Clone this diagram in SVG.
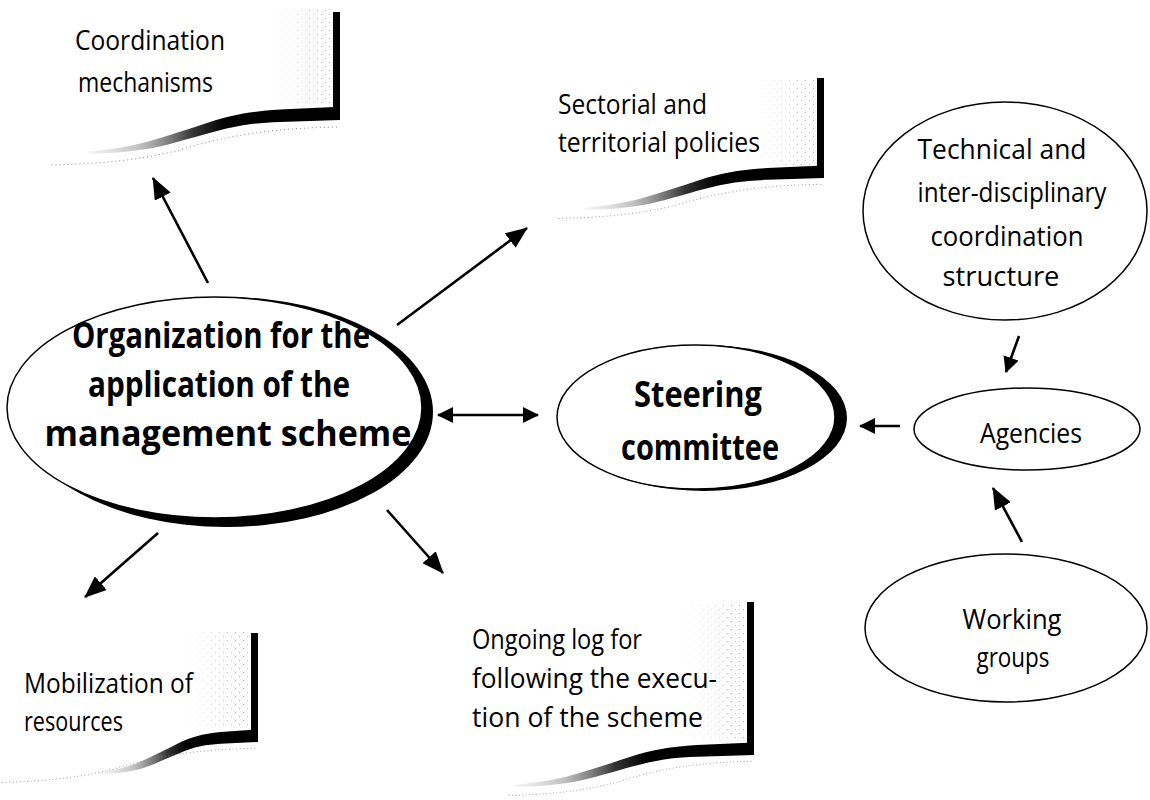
<svg xmlns="http://www.w3.org/2000/svg" width="1150" height="800" viewBox="0 0 1150 800">
<style>
  .t { font-family: "Open Sans", "Liberation Sans", sans-serif; font-size: 27px; fill: #000; }
  .b { font-family: "Open Sans", "Liberation Sans", sans-serif; font-size: 36px; font-weight: bold; fill: #000; }
  .c { text-anchor: middle; }
  .node { fill: #fff; stroke: #000; stroke-width: 1.5; }
  .shadow { fill: #000; }
  .conn { stroke: #000; stroke-width: 2.6; fill: none; }
  .bar { fill: #000; }
  .dots { fill: none; stroke: #888; stroke-width: 1; stroke-dasharray: 1 3; }
</style>
<defs>
  <marker id="ah" markerUnits="userSpaceOnUse" markerWidth="22" markerHeight="18" refX="21" refY="9" orient="auto-start-reverse" viewBox="0 0 22 18">
    <path d="M0,0 L22,9 L0,18 Z" fill="#000"/>
  </marker>
  <marker id="ahs" markerUnits="userSpaceOnUse" markerWidth="16" markerHeight="16" refX="15" refY="8" orient="auto-start-reverse" viewBox="0 0 16 16">
    <path d="M0,0 L16,8 L0,16 Z" fill="#000"/>
  </marker>
  <linearGradient id="bandGrad" x1="0" y1="0" x2="1" y2="0">
    <stop offset="0" stop-color="#bbb" stop-opacity="0.15"/>
    <stop offset="0.2" stop-color="#999" stop-opacity="0.6"/>
    <stop offset="0.42" stop-color="#333"/>
    <stop offset="0.55" stop-color="#000"/>
    <stop offset="1" stop-color="#000"/>
  </linearGradient>
  <pattern id="stipple" width="8" height="8" patternUnits="userSpaceOnUse">
    <rect x="1" y="2" width="1" height="1" fill="#888"/>
    <rect x="5" y="6" width="1" height="1" fill="#999"/>
  </pattern>
  <linearGradient id="fadeGrad" x1="0" y1="0" x2="1" y2="0">
    <stop offset="0" stop-color="#fff" stop-opacity="0"/>
    <stop offset="1" stop-color="#fff" stop-opacity="0.8"/>
  </linearGradient>
  <mask id="fadeMask" maskContentUnits="objectBoundingBox">
    <rect width="1" height="1" fill="url(#fadeGrad)"/>
  </mask>
  <path id="band" d="M 0 -14 L -60 -11 C -90 -9 -110 -5 -130 2 C -150 9 -170 16 -190 22 C -210 28 -230 31 -252 33 L -252 35 C -230 36 -210 33 -190 30 C -170 26 -150 19 -125 12 C -100 5 -85 3 -60 2 L 0 0 Z"/>
  <path id="dotline" d="M -3 7 C -60 8 -110 14 -160 30 C -200 40 -240 44 -290 45"/>
</defs>

<!-- connectors -->
<g id="connectors">
  <line class="conn" x1="208" y1="283" x2="153" y2="178" marker-end="url(#ah)"/>
  <line class="conn" x1="397" y1="325" x2="527" y2="228" marker-end="url(#ah)"/>
  <line class="conn" x1="158" y1="533" x2="85" y2="597" marker-end="url(#ah)"/>
  <line class="conn" x1="387" y1="510" x2="443" y2="573" marker-end="url(#ah)"/>
  <line class="conn" x1="438" y1="415" x2="538" y2="415" marker-start="url(#ahs)" marker-end="url(#ahs)"/>
  <line class="conn" x1="900" y1="426" x2="860" y2="426" marker-end="url(#ahs)"/>
  <line class="conn" x1="1019" y1="336" x2="1006" y2="372" marker-end="url(#ahs)"/>
  <line class="conn" x1="1022" y1="542" x2="993" y2="488" marker-end="url(#ah)"/>
</g>

<!-- page-curl labels -->
<g id="coordination-mechanisms">
  <g transform="translate(340,120)">
    <rect x="-75" y="-110" width="68" height="96" fill="url(#stipple)" mask="url(#fadeMask)"/>
    <use href="#band" fill="url(#bandGrad)" transform="scale(1,0.95)"/>
    <use href="#dotline" class="dots"/>
    <rect class="bar" x="-7" y="-108" width="7" height="108"/>
  </g>
  <text class="t" x="75" y="50" textLength="150" lengthAdjust="spacingAndGlyphs">Coordination</text>
  <text class="t" x="78" y="92" textLength="135" lengthAdjust="spacingAndGlyphs">mechanisms</text>
</g>

<g id="sectorial-policies">
  <g transform="translate(824,178)">
    <rect x="-75" y="-98" width="68" height="86" fill="url(#stipple)" mask="url(#fadeMask)"/>
    <use href="#band" fill="url(#bandGrad)" transform="scale(0.95,0.9)"/>
    <use href="#dotline" class="dots" transform="scale(0.92,0.9)"/>
    <rect class="bar" x="-7" y="-100" width="7" height="100"/>
  </g>
  <text class="t" x="558" y="114" textLength="149" lengthAdjust="spacingAndGlyphs">Sectorial and</text>
  <text class="t" x="558" y="152" textLength="202" lengthAdjust="spacingAndGlyphs">territorial policies</text>
</g>

<g id="mobilization-resources">
  <g transform="translate(258,742)">
    <rect x="-75" y="-110" width="68" height="96" fill="url(#stipple)" mask="url(#fadeMask)"/>
    <use href="#band" fill="url(#bandGrad)" transform="scale(0.62,0.9)"/>
    <use href="#dotline" class="dots" transform="scale(0.9,0.9)"/>
    <rect class="bar" x="-7" y="-109" width="7" height="109"/>
  </g>
  <text class="t" x="24" y="693" textLength="169" lengthAdjust="spacingAndGlyphs">Mobilization of</text>
  <text class="t" x="24" y="731" textLength="99" lengthAdjust="spacingAndGlyphs">resources</text>
</g>

<g id="ongoing-log">
  <g transform="translate(754,755)">
    <rect x="-75" y="-150" width="68" height="136" fill="url(#stipple)" mask="url(#fadeMask)"/>
    <use href="#band" fill="url(#bandGrad)" transform="scale(0.95,0.9)"/>
    <use href="#dotline" class="dots" transform="scale(0.85,0.9)"/>
    <rect class="bar" x="-7" y="-153" width="7" height="153"/>
  </g>
  <text class="t" x="472" y="649" textLength="170" lengthAdjust="spacingAndGlyphs">Ongoing log for</text>
  <text class="t" x="472" y="688" textLength="245" lengthAdjust="spacingAndGlyphs">following the execu-</text>
  <text class="t" x="472" y="727" textLength="231" lengthAdjust="spacingAndGlyphs">tion of the scheme</text>
</g>

<!-- main node -->
<g id="organization">
  <ellipse class="shadow" cx="226" cy="412" rx="207" ry="115"/>
  <ellipse class="node" cx="214.5" cy="407.5" rx="207.5" ry="110.5"/>
  <text class="b c" x="221" y="348" textLength="298" lengthAdjust="spacingAndGlyphs">Organization for the</text>
  <text class="b c" x="219" y="397" textLength="262" lengthAdjust="spacingAndGlyphs">application of the</text>
  <text class="b c" x="228" y="446" textLength="367" lengthAdjust="spacingAndGlyphs">management scheme</text>
</g>

<g id="steering-committee">
  <ellipse class="shadow" cx="704" cy="418" rx="143" ry="73"/>
  <ellipse class="node" cx="696" cy="417" rx="139" ry="72"/>
  <text class="b c" x="698" y="407" textLength="128" lengthAdjust="spacingAndGlyphs">Steering</text>
  <text class="b c" x="700" y="460" textLength="158" lengthAdjust="spacingAndGlyphs">committee</text>
</g>

<g id="technical-structure">
  <ellipse class="node" cx="1005" cy="211" rx="142" ry="109"/>
  <text class="t c" x="1002" y="159" textLength="169" lengthAdjust="spacingAndGlyphs">Technical and</text>
  <text class="t c" x="1012" y="202" textLength="189" lengthAdjust="spacingAndGlyphs">inter-disciplinary</text>
  <text class="t c" x="1007" y="246" textLength="153" lengthAdjust="spacingAndGlyphs">coordination</text>
  <text class="t c" x="1001" y="286" textLength="117" lengthAdjust="spacingAndGlyphs">structure</text>
</g>

<g id="agencies">
  <ellipse class="node" cx="1027" cy="429" rx="113" ry="41"/>
  <text class="t c" x="1031" y="443" textLength="102" lengthAdjust="spacingAndGlyphs">Agencies</text>
</g>

<g id="working-groups">
  <ellipse class="node" cx="1006" cy="628" rx="141" ry="74"/>
  <text class="t c" x="1012" y="629" textLength="99" lengthAdjust="spacingAndGlyphs">Working</text>
  <text class="t c" x="1013" y="667" textLength="73" lengthAdjust="spacingAndGlyphs">groups</text>
</g>
</svg>
